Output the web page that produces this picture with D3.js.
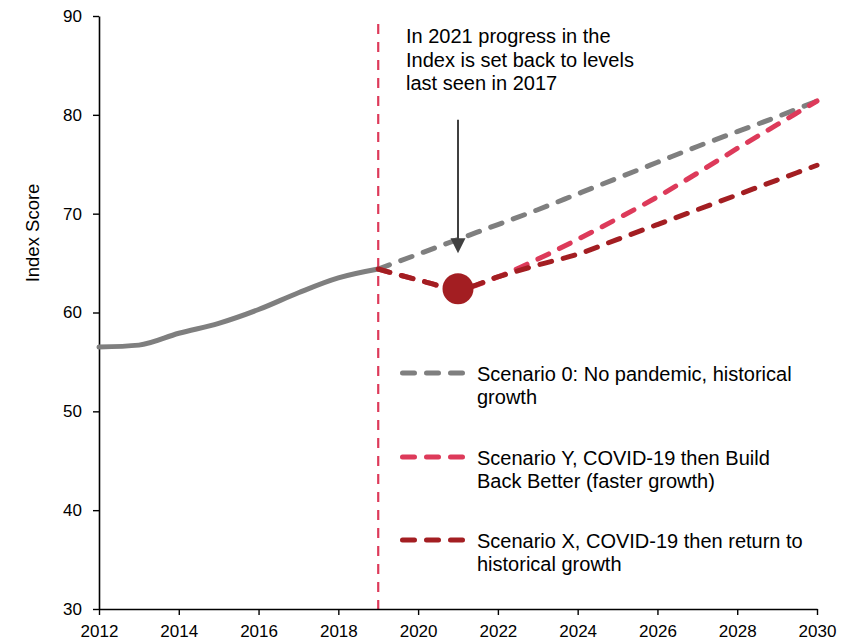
<!DOCTYPE html>
<html>
<head>
<meta charset="utf-8">
<script src="https://cdn.jsdelivr.net/npm/d3@7"></script>
<style>
  html, body { margin: 0; padding: 0; background: #fff; }
  svg { display: block; font-family: "Liberation Sans", Arial, sans-serif; }
</style>
</head>
<body>
<svg id="chart" width="861" height="641"></svg>
<script>
// ---- data ----
const histYears = [2012, 2013, 2014, 2015, 2016, 2017, 2018, 2019];
const histValues = [56.5, 56.7, 57.9, 58.9, 60.3, 62.0, 63.5, 64.4];

const projYears = [2019, 2020, 2021, 2022, 2023, 2024, 2025, 2026, 2027, 2028, 2029, 2030];
const scenario0 = [64.4, 65.9, 67.4, 68.9, 70.4, 72.0, 73.6, 75.2, 76.8, 78.3, 79.8, 81.4];
const scenarioY = [64.4, 63.3, 62.4, 63.6, 65.4, 67.4, 69.5, 71.7, 74.1, 76.6, 79.0, 81.4];
const scenarioX = [64.4, 63.3, 62.4, 63.6, 64.8, 65.9, 67.4, 68.9, 70.4, 71.9, 73.4, 74.9];

const shockYear = 2021;
const shockValue = 62.4;
const dividerYear = 2019;
const arrowFrom = 79.5;
const arrowTo = 66.0;

const xTicks = [2012, 2014, 2016, 2018, 2020, 2022, 2024, 2026, 2028, 2030];
const yTicks = [30, 40, 50, 60, 70, 80, 90];

const yTitle = "Index Score";
const annotationLines = ["In 2021 progress in the", "Index is set back to levels", "last seen in 2017"];
const legendItems = [
  { lines: ["Scenario 0: No pandemic, historical", "growth"], color: "#7f7f7f" },
  { lines: ["Scenario Y, COVID-19 then Build", "Back Better (faster growth)"], color: "#dd3a5a" },
  { lines: ["Scenario X, COVID-19 then return to", "historical growth"], color: "#a31e22" }
];

// ---- layout ----
const svg = d3.select("#chart");
const x = d3.scaleLinear().domain([2012, 2030]).range([99, 817]);
const y = d3.scaleLinear().domain([30, 90]).range([609, 16]);

const grey = "#7f7f7f", pink = "#dd3a5a", darkRed = "#a31e22";

// divider
svg.append("line")
  .attr("x1", x(dividerYear)).attr("x2", x(dividerYear))
  .attr("y1", y(90)).attr("y2", y(30))
  .attr("stroke", pink).attr("stroke-width", 2.2)
  .attr("stroke-dasharray", "10,8").attr("stroke-dashoffset", 10);

// axes
const xAxis = svg.append("g")
  .attr("transform", `translate(0,${y(30)})`)
  .call(d3.axisBottom(x).tickValues(xTicks).tickFormat(d3.format("d")).tickSize(6).tickSizeOuter(0).tickPadding(10));
const yAxis = svg.append("g")
  .attr("transform", `translate(${x(2012)},0)`)
  .call(d3.axisLeft(y).tickValues(yTicks).tickSize(6).tickSizeOuter(0).tickPadding(11));
[xAxis, yAxis].forEach(g => {
  g.select(".domain").attr("stroke", "#000").attr("stroke-width", 1.6);
  g.selectAll(".tick line").attr("stroke", "#000").attr("stroke-width", 1.4);
  g.selectAll(".tick text").attr("fill", "#000").style("font-size", "17px")
    .style("font-family", '"Liberation Sans", Arial, sans-serif');
});

// y title
svg.append("text")
  .attr("transform", `translate(39,233) rotate(-90)`)
  .attr("text-anchor", "middle")
  .style("font-size", "18.5px")
  .attr("fill", "#000")
  .text(yTitle);

// lines
const line = d3.line().x(d => x(d[0])).y(d => y(d[1])).curve(d3.curveMonotoneX);

svg.append("path")
  .datum(histYears.map((yr, i) => [yr, histValues[i]]))
  .attr("d", line).attr("fill", "none")
  .attr("stroke", grey).attr("stroke-width", 5).attr("stroke-linecap", "round");

const scen = [
  { vals: scenario0, color: grey },
  { vals: scenarioY, color: pink },
  { vals: scenarioX, color: darkRed }
];
scen.forEach(s => {
  svg.append("path")
    .datum(projYears.map((yr, i) => [yr, s.vals[i]]))
    .attr("d", line).attr("fill", "none")
    .attr("stroke", s.color).attr("stroke-width", 5)
    .attr("stroke-linecap", "round")
    .attr("stroke-dasharray", "12,12");
});

// shock dot
svg.append("circle")
  .attr("cx", x(shockYear)).attr("cy", y(shockValue)).attr("r", 15.5)
  .attr("fill", "#a31e22");

// arrow
const ax = x(shockYear);
svg.append("line")
  .attr("x1", ax).attr("x2", ax)
  .attr("y1", y(arrowFrom)).attr("y2", y(arrowTo) - 12)
  .attr("stroke", "#404040").attr("stroke-width", 2);
svg.append("path")
  .attr("d", `M${ax - 7.5},${y(arrowTo) - 15} L${ax + 7.5},${y(arrowTo) - 15} L${ax},${y(arrowTo)} Z`)
  .attr("fill", "#404040");

// annotation
const ann = svg.append("text").attr("fill", "#000").style("font-size", "20px");
annotationLines.forEach((t, i) => {
  ann.append("tspan").attr("x", 406).attr("y", 43 + i * 23.5).text(t);
});

// legend
const legendTop = [373, 457, 540];
legendItems.forEach((item, i) => {
  const ly = legendTop[i];
  svg.append("line")
    .attr("x1", 402.5).attr("x2", 462.5).attr("y1", ly).attr("y2", ly)
    .attr("stroke", item.color).attr("stroke-width", 5)
    .attr("stroke-linecap", "round").attr("stroke-dasharray", "12,12");
  const t = svg.append("text").attr("fill", "#000").style("font-size", "20px");
  item.lines.forEach((ln, j) => {
    t.append("tspan").attr("x", 477).attr("y", ly + 8 + j * 22.5).text(ln);
  });
});
</script>
</body>
</html>
